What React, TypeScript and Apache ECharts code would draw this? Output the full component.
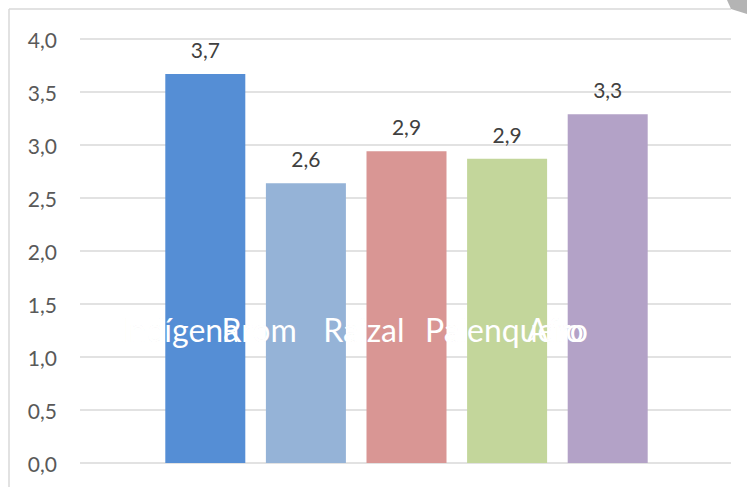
import React, { useEffect, useRef } from "react";
import * as echarts from "echarts";

const categories = ["Indígena", "Rrom", "Raizal", "Palenquero", "Afro"];
const values = [3.67, 2.64, 2.94, 2.87, 3.29];
const barColors = ["#558ED5", "#95B3D7", "#D99694", "#C3D69B", "#B3A2C7"];
const yMin = 0;
const yMax = 4;
const yStep = 0.5;

const fmt = (v: number) => v.toFixed(1).replace(".", ",");

export default function App() {
  const ref = useRef<HTMLDivElement>(null);
  useEffect(() => {
    if (!ref.current) return;
    const chart = echarts.init(ref.current, undefined, { renderer: "svg" });
    const font = "Lato, 'Liberation Sans', sans-serif";
    chart.setOption({
      animation: false,
      backgroundColor: "#ffffff",
      grid: [
        { left: 80, right: 16, top: 39, bottom: 24 },
        { left: 155, width: 503, top: 39, bottom: 24 },
        { left: 69, width: 508.5, top: 39, bottom: 24 },
      ],
      xAxis: [
        { type: "value", gridIndex: 0, show: false, min: 0, max: 1 },
        { type: "category", gridIndex: 1, show: false, data: categories },
        {
          type: "category",
          gridIndex: 2,
          data: categories,
          z: 10,
          axisLine: { show: false },
          axisTick: { show: false },
          splitLine: { show: false },
          axisLabel: {
            interval: 0,
            align: "left",
            verticalAlign: "middle",
            margin: -134,
            color: "#ffffff",
            fontSize: 32,
            fontFamily: font,
            textBorderColor: "rgba(0,0,0,0.035)",
            textBorderWidth: 1,
          },
        },
      ],
      yAxis: [
        {
          type: "value",
          gridIndex: 0,
          min: yMin,
          max: yMax,
          interval: yStep,
          axisLine: { show: false },
          axisTick: { show: false },
          axisLabel: {
            formatter: (v: number) => fmt(v),
            color: "#595959",
            fontSize: 21,
            fontFamily: font,
            margin: 23,
          },
          splitLine: { lineStyle: { color: "#D9D9D9", width: 1.5 } },
        },
        { type: "value", gridIndex: 1, show: false, min: yMin, max: yMax },
        { type: "value", gridIndex: 2, show: false, min: yMin, max: yMax },
      ],
      series: [
        {
          type: "bar",
          xAxisIndex: 1,
          yAxisIndex: 1,
          barWidth: 80,
          data: values.map((v, i) => ({ value: v, itemStyle: { color: barColors[i] } })),
          label: {
            show: true,
            position: "top",
            distance: 14,
            color: "#404040",
            fontSize: 21,
            fontFamily: font,
            formatter: (p: any) => fmt(p.value),
          },
        },
      ],
      graphic: [
        {
          type: "line",
          shape: { x1: 9, y1: 9, x2: 731, y2: 9 },
          style: { stroke: "#D9D9D9", lineWidth: 1.5 },
          silent: true,
        },
        {
          type: "line",
          shape: { x1: 9, y1: 9, x2: 9, y2: 487 },
          style: { stroke: "#D9D9D9", lineWidth: 1.5 },
          silent: true,
        },
        {
          type: "polygon",
          shape: { points: [[727, 0], [747, 0], [747, 14], [731, 9]] },
          style: { fill: "#B4B4B4" },
          silent: true,
        },
      ],
    });
    return () => chart.dispose();
  }, []);
  return (
    <div
      ref={ref}
      style={{ position: "fixed", left: 0, top: 0, width: 747, height: 487 }}
    />
  );
}
